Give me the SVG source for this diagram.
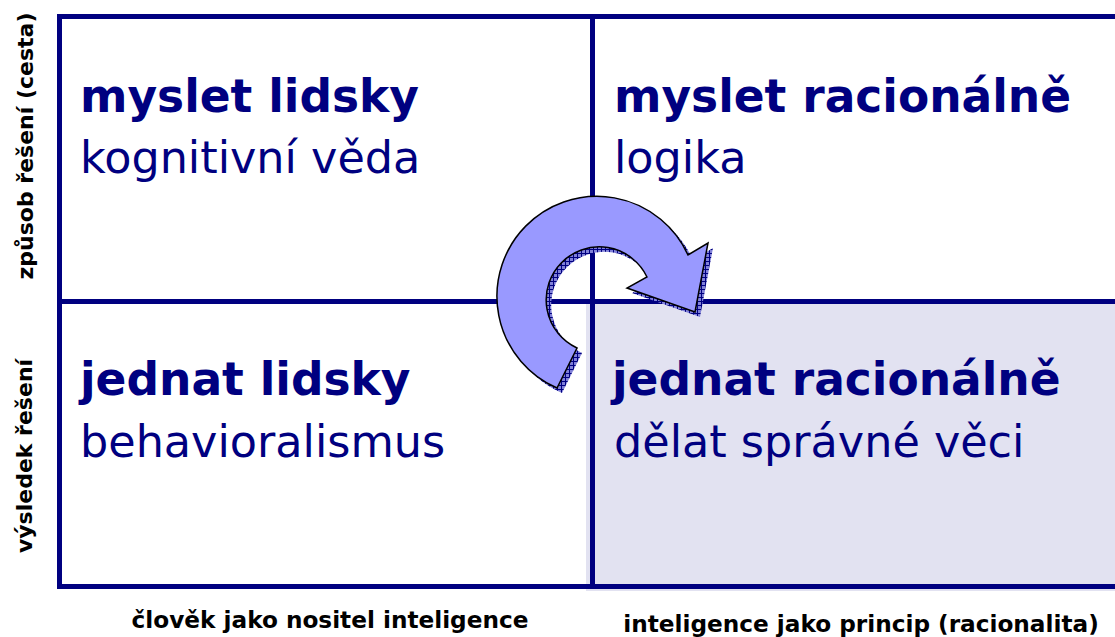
<svg xmlns="http://www.w3.org/2000/svg" width="1115" height="637" viewBox="0 0 1115 637">
<style>
.grid{stroke:#000080;stroke-width:5;fill:none}
.h{font-family:"DejaVu Sans",Verdana,sans-serif;font-weight:bold;font-size:45.5px;fill:#000080}
.s{font-family:"DejaVu Sans",Verdana,sans-serif;font-size:44.5px;fill:#000080}
.ax{font-family:"DejaVu Sans",Verdana,sans-serif;font-weight:bold;font-size:22px;fill:#000000;text-anchor:middle}
.bx{font-size:23.2px}
</style>
<defs>
<pattern id="hatch" width="4" height="4" patternUnits="userSpaceOnUse">
<rect width="4" height="4" fill="#8080d8"/>
<path d="M0 0.5H4M0.5 0V4" stroke="#000080" stroke-width="1"/>
</pattern>
</defs>
<rect width="1115" height="637" fill="#ffffff"/>
<rect x="586" y="301" width="529" height="290" fill="#e2e2f1"/>
<g id="grid">
<path class="grid" d="M1115 16.5H59.5V586.5H1115M59.5 301.5H1115M592.5 16.5V586.5"/>
</g>
<g id="cell-tl">
<text class="h" x="80" y="112">myslet lidsky</text>
<text class="s" x="80" y="173">kognitivní věda</text>
</g>
<g id="cell-tr">
<text class="h" x="614" y="112">myslet racionálně</text>
<text class="s" x="614" y="173">logika</text>
</g>
<g id="cell-bl">
<text class="h" x="80" y="395">jednat lidsky</text>
<text class="s" x="80" y="457">behavioralismus</text>
</g>
<g id="cell-br">
<text class="h" x="612" y="395">jednat racionálně</text>
<text class="s" x="614" y="457">dělat správné věci</text>
</g>
<g id="axes">
<text class="ax" transform="translate(33,146) rotate(-90)">způsob řešení (cesta)</text>
<text class="ax" transform="translate(32,456) rotate(-90)">výsledek řešení</text>
<text class="ax bx" x="330" y="628">člověk jako nositel inteligence</text>
<text class="ax bx" x="861" y="632">inteligence jako princip (racionalita)</text>
</g>
<g id="connectors">
<path transform="translate(5,5)" fill="url(#hatch)" d="M557 388A100 100 0 1 1 688 255L708 243L695 312L627 288L647 277A53 53 0 1 0 577 348Z"/>
<path fill="#9999ff" stroke="#000000" stroke-width="1.5" stroke-linejoin="miter" d="M557 388A100 100 0 1 1 688 255L708 243L695 312L627 288L647 277A53 53 0 1 0 577 348Z"/>
</g>
</svg>
